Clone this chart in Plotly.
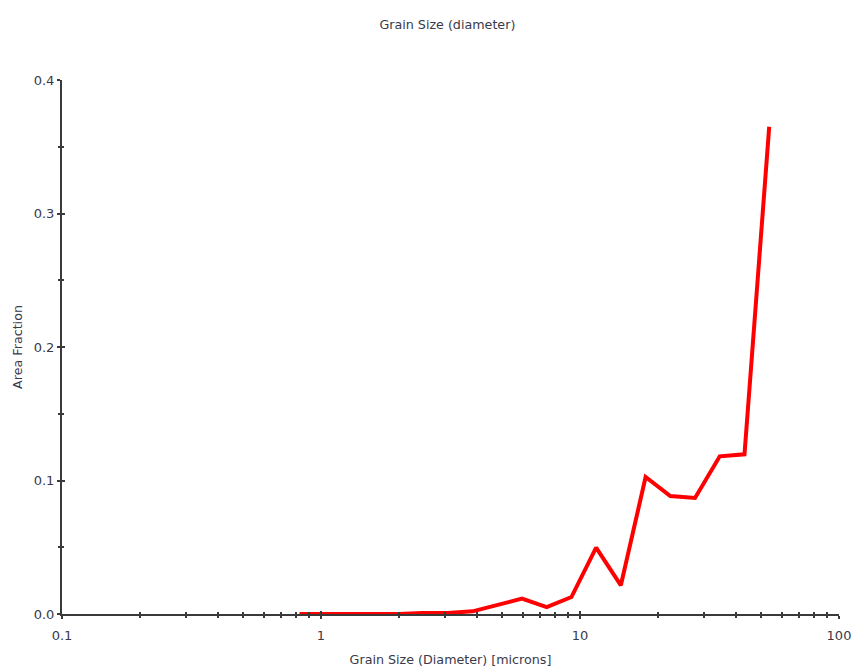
import plotly.graph_objects as go

# Grain size distribution (area fraction per diameter bin)
diameter_um = [0.826, 1.029, 1.282, 1.597, 1.990, 2.479, 3.088, 3.847, 4.793, 5.971,
               7.438, 9.267, 11.54, 14.38, 17.92, 22.32, 27.81, 34.64, 43.16, 53.77]
area_fraction = [0.0, 0.0, 0.0, 0.0, 0.0, 0.0008, 0.0008, 0.002, 0.007, 0.0115,
                 0.0052, 0.0127, 0.0497, 0.0215, 0.1026, 0.0884, 0.0869, 0.1181, 0.1196, 0.365]

x_tick_vals = [0.1, 1, 10, 100]
x_tick_text = ["0.1", "1", "10", "100"]
y_tick_vals = [0.0, 0.1, 0.2, 0.3, 0.4]
y_tick_text = ["0.0", "0.1", "0.2", "0.3", "0.4"]

AXIS = "#3a3a3a"
TXT = "#3a3a4a"
FONT = "DejaVu Sans"

x_minor = [m * d for d in (0.1, 1, 10) for m in range(2, 10)]
y_minor = [0.05, 0.15, 0.25, 0.35]

fig = go.Figure()
fig.add_trace(go.Scatter(
    x=diameter_um, y=area_fraction, mode="lines",
    line=dict(color="#ff0000", width=4), showlegend=False,
))
# invisible copy that anchors the overlay axes carrying the inner tick halves
fig.add_trace(go.Scatter(
    x=diameter_um, y=area_fraction, mode="lines", xaxis="x2", yaxis="y2",
    line=dict(color="rgba(0,0,0,0)", width=0), showlegend=False, hoverinfo="skip",
))

common_x = dict(type="log", range=[-1, 2], showgrid=False, zeroline=False,
                tickvals=x_tick_vals, tickcolor=AXIS, tickwidth=2, automargin=False)
common_y = dict(range=[0, 0.4], showgrid=False, zeroline=False,
                tickvals=y_tick_vals, tickcolor=AXIS, tickwidth=2, automargin=False)

fig.update_layout(
    width=852, height=668,
    margin=dict(l=62, r=13, t=80, b=54),
    paper_bgcolor="white", plot_bgcolor="white",
    font=dict(family=FONT, color=TXT, size=13),
    title=dict(text="Grain Size (diameter)", x=0.496, xref="paper", xanchor="center",
               y=1 - 25 / 668, yref="container", yanchor="middle",
               font=dict(family=FONT, size=12.7, color=TXT)),
    xaxis=dict(**common_x, ticktext=x_tick_text, ticks="outside", ticklen=3,
               ticklabelstandoff=5,
               showline=True, linecolor=AXIS, linewidth=2,
               minor=dict(tickvals=x_minor, ticks="outside", ticklen=2,
                          tickcolor=AXIS, tickwidth=2),
               tickfont=dict(size=13, color=TXT),
               title=dict(text="Grain Size (Diameter) [microns]", standoff=14,
                          font=dict(size=12.7, color=TXT))),
    yaxis=dict(**common_y, ticktext=y_tick_text, ticks="outside", ticklen=3,
               showline=True, linecolor=AXIS, linewidth=2,
               minor=dict(tickvals=y_minor, ticks="outside", ticklen=2,
                          tickcolor=AXIS, tickwidth=2),
               tickfont=dict(size=13, color=TXT),
               title=dict(text="Area Fraction", standoff=8,
                          font=dict(size=12.7, color=TXT))),
    xaxis2=dict(**common_x, overlaying="x", side="bottom", anchor="y2",
                ticks="inside", ticklen=3, showticklabels=False, showline=False,
                minor=dict(tickvals=x_minor, ticks="inside", ticklen=2,
                           tickcolor=AXIS, tickwidth=2)),
    yaxis2=dict(**common_y, overlaying="y", side="left", anchor="x2",
                ticks="inside", ticklen=3, showticklabels=False, showline=False,
                minor=dict(tickvals=y_minor, ticks="inside", ticklen=2,
                           tickcolor=AXIS, tickwidth=2)),
)

fig.write_html("out.html")
